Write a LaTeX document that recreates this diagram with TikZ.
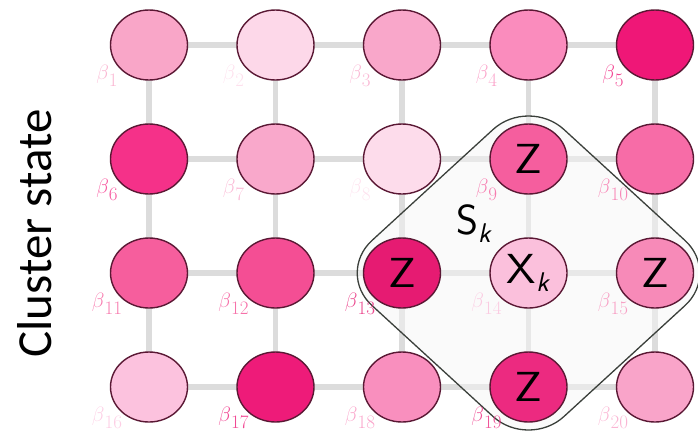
\documentclass[tikz,border=0pt]{standalone}
\usepackage{fontspec}
\newfontfamily\carlito{Carlito}
\usetikzlibrary{shapes.geometric,calc}
\definecolor{c1}{HTML}{F9A6C8}
\definecolor{c2}{HTML}{FDD8E9}
\definecolor{c3}{HTML}{F9A7CA}
\definecolor{c4}{HTML}{FA8CBD}
\definecolor{c5}{HTML}{EF1777}
\definecolor{c6}{HTML}{F53189}
\definecolor{c7}{HTML}{F9A8CB}
\definecolor{c8}{HTML}{FDDCEB}
\definecolor{c9}{HTML}{F55E9E}
\definecolor{c10}{HTML}{F76CA7}
\definecolor{c11}{HTML}{F65E9D}
\definecolor{c12}{HTML}{F44E94}
\definecolor{c13}{HTML}{E61B72}
\definecolor{c14}{HTML}{FBC0DC}
\definecolor{c15}{HTML}{F78AB8}
\definecolor{c16}{HTML}{FCC2DE}
\definecolor{c17}{HTML}{EE1B79}
\definecolor{c18}{HTML}{F98FBE}
\definecolor{c19}{HTML}{EC2A80}
\definecolor{c20}{HTML}{F9A4C9}
\definecolor{rim}{HTML}{5A1834}
\definecolor{gridgray}{HTML}{DCDCDC}
\definecolor{diamline}{HTML}{3A3F3A}
\newcommand\betalab[1]{$\beta$\raisebox{-7pt}{\fontsize{19}{19}\selectfont #1}}
\newcommand\xkop{\scalebox{1.12}[1]{\textsf{X}}\raisebox{-8pt}{\fontsize{27}{27}\selectfont\textsf{\slshape k}}}
\newcommand\zop{\scalebox{1.15}[1]{Z}}
\tikzset{
  site/.style={ellipse, draw=rim, line width=1.4pt, minimum width=77pt, minimum height=70pt, inner sep=0pt,
    font=\fontsize{42}{42}\selectfont\sffamily},
  gridline/.style={draw=gridgray, line width=5.5pt},
  blab/.style={inner sep=0pt, opacity=0.8, font=\fontsize{22}{24}\selectfont},
  diam/.style={draw=diamline, line width=1.3pt, fill=black!4, fill opacity=0.5, rounded corners=48pt},
}
\begin{document}
\begin{tikzpicture}[x=1pt,y=-1pt]
\useasboundingbox (0,0) rectangle (698,432);
\foreach \i/\x/\y in {1/149/45, 2/275.5/45, 3/402/45, 4/528.5/45, 5/655/45,
  6/149/159, 7/275.5/159, 8/402/159, 9/528.5/159, 10/655/159,
  11/149/273, 12/275.5/273, 13/402/273, 14/528.5/273, 15/655/273,
  16/149/387, 17/275.5/387, 18/402/387, 19/528.5/387, 20/655/387}
  \coordinate (p\i) at (\x,\y);
% grid
\foreach \a/\b in {1/5,6/10,11/15,16/20,1/16,2/17,3/18,4/19,5/20}
  \draw[gridline] (p\a) -- (p\b);
% stabilizer region
\coordinate (dt) at ($(p14)+(0,-176)$);
\coordinate (dr) at ($(p14)+(192,0)$);
\coordinate (db) at ($(p14)+(0,176)$);
\coordinate (dl) at ($(p14)+(-192,0)$);
\coordinate (dm) at ($(dl)!0.5!(dt)$);
\draw[diam] (dm) -- (dt) -- (dr) -- (db) -- (dl) -- cycle;
% labels
\foreach \i in {1,...,20}
  \node[blab, text=c\i] (b\i) at ([xshift=-42pt,yshift=-31pt]p\i) {\betalab{\i}};
% sites
\foreach \i/\t in {1/{},2/{},3/{},4/{},5/{},6/{},7/{},8/{},9/{\zop},10/{},
  11/{},12/{},13/{\zop},14/{\xkop},15/{\zop},16/{},17/{},18/{},19/{\zop},20/{}}
  \node[site, fill=c\i] (q\i) at (p\i) {\t};
% texts
\node[inner sep=0pt, font=\fontsize{42}{42}\selectfont\sffamily] (sk) at (474,224)
  {S\raisebox{-8pt}{\fontsize{27}{27}\selectfont\textsf{\slshape k}}};
\node[inner sep=0pt, rotate=90, font=\carlito\fontsize{49}{49}\selectfont] (title) at (35,233.5) {Cluster state};
\end{tikzpicture}
\end{document}
